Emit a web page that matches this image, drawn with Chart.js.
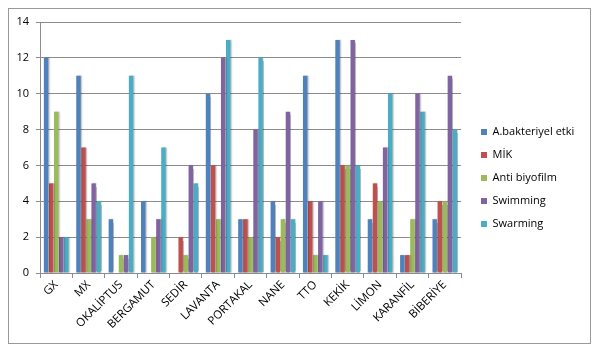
<!DOCTYPE html>
<html>
<head>
<meta charset="utf-8">
<script src="https://cdn.jsdelivr.net/npm/chart.js@4.4.1/dist/chart.umd.min.js"></script>
<style>
html,body{margin:0;padding:0;background:#fff;}
#wrap{position:relative;width:600px;height:352px;}
</style>
</head>
<body>
<div id="wrap"><canvas id="c" width="600" height="352"></canvas></div>
<script>
const categories = ["GX","MX","OKALİPTUS","BERGAMUT","SEDİR","LAVANTA","PORTAKAL","NANE","TTO","KEKİK","LİMON","KARANFİL","BİBERİYE"];
const antibakteriyel = [12,11,3,4,0,10,3,4,11,13,3,1,3];
const mik = [5,7,0,0,2,6,3,2,4,6,5,1,4];
const antiBiyofilm = [9,3,1,2,1,3,2,3,1,6,4,3,4];
const swimming = [2,5,1,3,6,12,8,9,4,13,7,10,11];
const swarming = [2,4,11,7,5,13,12,3,1,6,10,9,8];
const seriesNames = ["A.bakteriyel etki","MİK","Anti biyofilm","Swimming","Swarming"];
const yTicks = [0,2,4,6,8,10,12,14];

const colors = ["#4F81BD","#C0504D","#9BBB59","#8064A2","#4BACC6"];
const seriesData = [antibakteriyel, mik, antiBiyofilm, swimming, swarming];

const PLOT_RIGHT = 461;

const borderPlugin = {
  id: 'outerBorder',
  beforeDraw(chart) {
    const ctx = chart.ctx;
    ctx.save();
    ctx.fillStyle = '#fff';
    ctx.fillRect(0,0,chart.width,chart.height);
    ctx.strokeStyle = '#9a9a9a';
    ctx.lineWidth = 1;
    ctx.strokeRect(8.5, 8.5, 582, 335);
    ctx.restore();
  }
};
const shadowPlugin = {
  id: 'barShadow',
  beforeDatasetsDraw(chart) {
    const ctx = chart.ctx;
    ctx.save();
    ctx.shadowColor = 'rgba(0,0,0,0.28)';
    ctx.shadowOffsetX = 1.2;
    ctx.shadowOffsetY = 0;
    ctx.shadowBlur = 1.5;
  },
  afterDatasetsDraw(chart) {
    chart.ctx.restore();
  }
};
const legendPlace = {
  id: 'legendPlace',
  beforeUpdate(chart) {
    const lg = chart.legend;
    if (lg && !lg._patched) {
      const orig = lg.fit;
      lg.fit = function() {
        orig.call(this);
        if (this.options.position === 'right') this.width = chart.width - PLOT_RIGHT;
      };
      lg._patched = true;
    }
  },
  afterLayout(chart) {
    const lg = chart.legend;
    lg.left += 8; lg.right += 8;
    lg.top = 10; lg.bottom = 346;
  }
};

new Chart(document.getElementById('c'), {
  type: 'bar',
  data: {
    labels: categories,
    datasets: seriesData.map((d, i) => ({
      label: seriesNames[i],
      data: d,
      backgroundColor: colors[i],
      borderWidth: 0,
      barPercentage: 0.88,
      categoryPercentage: 0.78
    }))
  },
  options: {
    responsive: false,
    animation: false,
    devicePixelRatio: 1,
    layout: { padding: { left: 8, top: 22, right: 0, bottom: 9 } },
    plugins: {
      legend: {
        position: 'right',
        labels: {
          boxWidth: 6, boxHeight: 6,
          padding: 12,
          color: '#000',
          font: { family: 'Open Sans', size: 11, lineHeight: 1.2 }
        }
      },
      tooltip: { enabled: false }
    },
    scales: {
      x: {
        afterFit(scale) { scale.height = 70; },
        grid: { display: true, drawOnChartArea: false, drawTicks: true, tickLength: 5, color: '#8c8c8c', offset: true },
        border: { display: true, color: '#8c8c8c' },
        ticks: {
          maxRotation: 45, minRotation: 45, autoSkip: false,
          color: '#000', padding: 0,
          font: { family: 'Open Sans', size: 11.5 }
        }
      },
      y: {
        min: 0, max: 14,
        afterFit(scale) { scale.width = 32; },
        afterBuildTicks(scale) { scale.ticks = yTicks.map(v => ({ value: v })); },
        grid: { color: '#8c8c8c', drawTicks: true, tickLength: 4 },
        border: { display: true, color: '#8c8c8c' },
        ticks: {
          color: '#000', padding: 7,
          font: { family: 'Open Sans', size: 11 }
        }
      }
    }
  },
  plugins: [borderPlugin, shadowPlugin, legendPlace]
});
</script>
</body>
</html>
